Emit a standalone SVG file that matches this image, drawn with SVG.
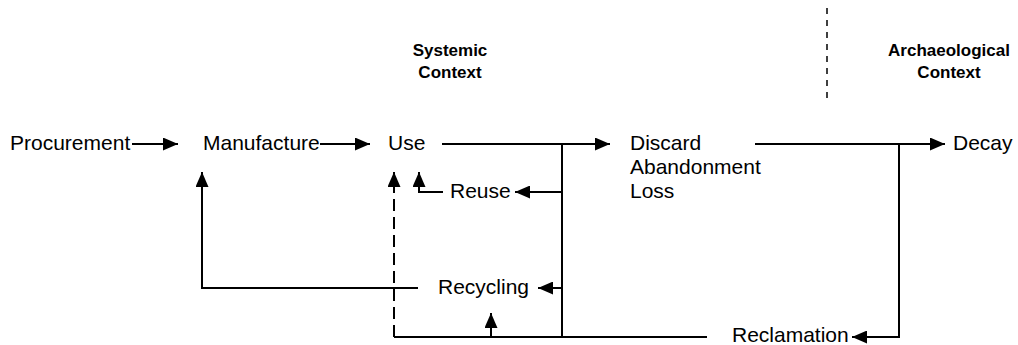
<svg xmlns="http://www.w3.org/2000/svg" width="1018" height="345" viewBox="0 0 1018 345">
<style>
text{font-family:"Liberation Sans",Arial,sans-serif;font-size:21px;fill:#000}
.h{font-weight:bold;font-size:17px;text-anchor:middle}
.c{fill:none;stroke:#000;stroke-width:2}
.d{stroke-dasharray:12 6}
.sep{fill:none;stroke:#000;stroke-width:1.5;stroke-dasharray:6 6}
</style>
<defs>
<marker id="ah" markerUnits="userSpaceOnUse" markerWidth="15" markerHeight="13" refX="15" refY="6.5" orient="auto">
<path d="M0,0 L15,6.5 L0,13 z" fill="#000"/>
</marker>
</defs>
<g id="headers">
<text class="h" x="450" y="56">Systemic</text>
<text class="h" x="450" y="78">Context</text>
<text class="h" x="949" y="56">Archaeological</text>
<text class="h" x="949" y="78">Context</text>
<line class="sep" x1="827" y1="8" x2="827" y2="100"/>
</g>
<g id="procurement"><text x="10" y="150">Procurement</text></g>
<g id="manufacture"><text x="203" y="150">Manufacture</text></g>
<g id="use"><text x="388" y="150">Use</text></g>
<g id="discard"><text x="630" y="150">Discard</text><text x="630" y="174">Abandonment</text><text x="630" y="198">Loss</text></g>
<g id="decay"><text x="953" y="150">Decay</text></g>
<g id="reuse"><text x="450" y="198">Reuse</text></g>
<g id="recycling"><text x="438" y="294">Recycling</text></g>
<g id="reclamation"><text x="732" y="342">Reclamation</text></g>
<g id="connectors">
<path class="c" d="M132,144 H178" marker-end="url(#ah)"/>
<path class="c" d="M320,144 H370" marker-end="url(#ah)"/>
<path class="c" d="M442,144 H610" marker-end="url(#ah)"/>
<path class="c" d="M755,144 H945" marker-end="url(#ah)"/>
<path class="c" d="M562,144 V337"/>
<path class="c" d="M562,192 H515" marker-end="url(#ah)"/>
<path class="c" d="M562,288 H538" marker-end="url(#ah)"/>
<path class="c" d="M443,192 H419 V172" marker-end="url(#ah)"/>
<path class="c" d="M418,288 H202 V172" marker-end="url(#ah)"/>
<path class="c d" d="M394,337 V187"/>
<path class="c" d="M394,190 V172" marker-end="url(#ah)"/>
<path class="c" d="M394,337 H707"/>
<path class="c" d="M491,337 V313" marker-end="url(#ah)"/>
<path class="c" d="M899,144 V337 H852" marker-end="url(#ah)"/>
</g>
</svg>
